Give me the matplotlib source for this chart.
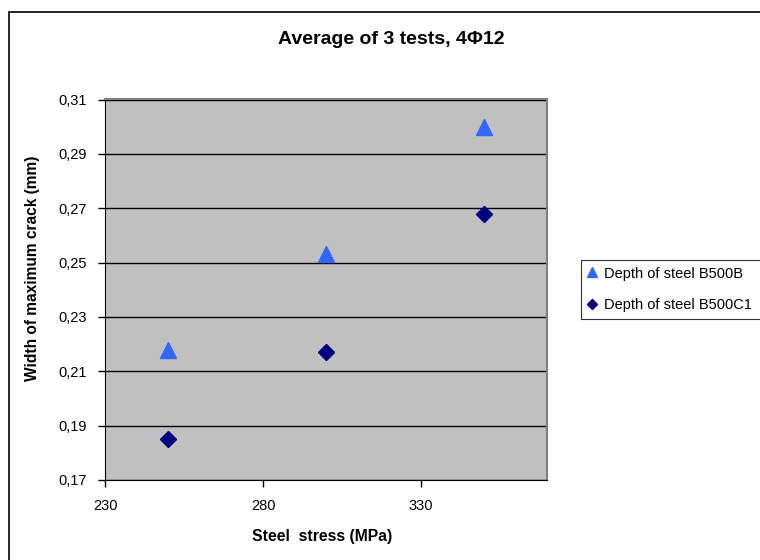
import matplotlib.pyplot as plt
from matplotlib.patches import Rectangle

plt.rcParams['font.family'] = ['Liberation Sans', 'DejaVu Sans']

# steel stress (MPa) and crack width (mm)
stress = [250, 300, 350]
width_b500b = [0.218, 0.253, 0.300]
width_b500c1 = [0.185, 0.217, 0.268]
x_ticks = [230, 280, 330]
y_ticks = [0.17, 0.19, 0.21, 0.23, 0.25, 0.27, 0.29, 0.31]

fig = plt.figure(figsize=(7.6, 5.6), dpi=100)
ax = fig.add_axes([105.3 / 760, 80 / 560, (547.3 - 105.3) / 760, (480 - 99.5) / 560])
ax.set_facecolor('#C0C0C0')

ax.plot(stress, width_b500b, linestyle='none', marker='^', markersize=12,
        color='#3366FF', label='Depth of steel B500B', zorder=3)
ax.plot(stress, width_b500c1, linestyle='none', marker='D', markersize=8.5,
        color='#000080', label='Depth of steel B500C1', zorder=3)

ax.set_xlim(230, 370)
ax.set_ylim(0.17, 0.31)
ax.set_xticks(x_ticks)
ax.set_yticks(y_ticks)
ax.set_yticklabels([f'{v:.2f}'.replace('.', ',') for v in y_ticks])
ax.yaxis.grid(True, color='black', linewidth=1)
ax.set_axisbelow(True)
ax.tick_params(direction='out', length=5, width=1, labelsize=10.5, colors='black')
ax.tick_params(axis='x', pad=9)
ax.tick_params(axis='y', pad=8)

for side in ['left', 'bottom']:
    ax.spines[side].set_color('black')
for side in ['top', 'right']:
    ax.spines[side].set_color('#808080')
    ax.spines[side].set_linewidth(1.5)

fig.text(391 / 760, 1 - 40 / 560, 'Average of 3 tests, 4Φ12', ha='center', va='center',
         fontsize=14, fontweight='bold')
fig.text(322 / 760, 1 - 537 / 560, 'Steel  stress (MPa)', ha='center', va='center',
         fontsize=11.3, fontweight='bold')
fig.text(33 / 760, 1 - 268 / 560, 'Width of maximum crack (mm)', ha='center', va='center',
         rotation=90, fontsize=11.2, fontweight='bold')

leg = fig.legend(loc='upper left', mode='expand',
                 bbox_to_anchor=(581 / 760, 1 - 317 / 560, 200 / 760, 57 / 560),
                 fontsize=10.5, frameon=True, fancybox=False, edgecolor='black',
                 handlelength=0.6, handletextpad=0.5, borderpad=0.45, labelspacing=1.2,
                 markerscale=0.6, borderaxespad=0)
leg.get_frame().set_linewidth(0.8)

# outer chart border
fig.add_artist(Rectangle((9 / 760, -0.1), 1.0, 1 - 12 / 560 + 0.1, transform=fig.transFigure,
                         fill=False, edgecolor='black', linewidth=1.2, clip_on=False))

fig.savefig('out.png', dpi=100)
